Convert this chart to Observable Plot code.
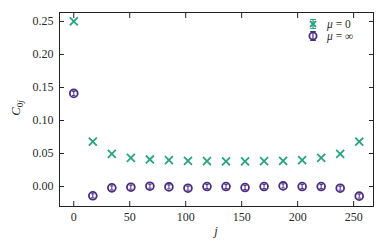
<!DOCTYPE html>
<html><head><meta charset="utf-8">
<script src="https://cdn.jsdelivr.net/npm/d3@7"></script>
<script src="https://cdn.jsdelivr.net/npm/@observablehq/plot@0.6"></script>
<style>body{margin:0;background:#fff} #chart{position:relative;width:386px;height:251px}</style>
</head><body><div id="chart"></div>
<script>
const j = [0, 17, 34, 51, 68, 85, 102, 119, 136, 153, 170, 187, 204, 221, 238, 255];
const cMu0 = [0.250, 0.068, 0.0495, 0.0435, 0.041, 0.040, 0.039, 0.0385, 0.038, 0.038, 0.0385, 0.039, 0.040, 0.0435, 0.0495, 0.068];
const cMuInf = [0.141, -0.014, -0.002, -0.001, 0.0005, -0.0005, -0.0025, 0.0, 0.0, -0.0015, 0.0, 0.001, 0.0, 0.0, -0.0025, -0.0145];
const errMu0 = [0.0005, 0.0005, 0.0005, 0.0005, 0.0005, 0.0005, 0.0005, 0.0005, 0.0005, 0.0005, 0.0005, 0.0005, 0.0005, 0.0005, 0.0005, 0.0005];
const errMuInf = [0.003, 0.003, 0.003, 0.003, 0.003, 0.003, 0.003, 0.003, 0.003, 0.003, 0.003, 0.003, 0.003, 0.003, 0.003, 0.003];
const xTicks = [0, 50, 100, 150, 200, 250];
const yTicks = [0.00, 0.05, 0.10, 0.15, 0.20, 0.25];
const seriesNames = ["μ = 0", "μ = ∞"];

const green = "#27a47f";
const purple = "#4a2b80";
const font = "'Liberation Serif', 'DejaVu Serif', serif";
const textColor = "#2a2a2a";

const rows0 = j.map((x, i) => ({x, y: cMu0[i], e: errMu0[i]}));
const rowsInf = j.map((x, i) => ({x, y: cMuInf[i], e: errMuInf[i]}));

const cap = {draw(ctx) { ctx.moveTo(-1.7, 0); ctx.lineTo(1.7, 0); }};

const chart = Plot.plot({
  width: 386, height: 251,
  marginLeft: 59, marginRight: 13, marginTop: 12, marginBottom: 45,
  style: {fontFamily: font, fontSize: "12px", color: textColor, background: "#fff"},
  x: {domain: [-12.75, 267.75]},
  y: {domain: [-0.0302, 0.2635]},
  marks: [
    Plot.axisX(xTicks, {anchor: "bottom", tickSize: -5, tickPadding: 11, tickFormat: d => String(d), label: null, fontSize: 12, stroke: "#222"}),
    Plot.axisX(xTicks, {anchor: "top", tickSize: -5, tickPadding: 0, tickFormat: () => "", label: null, stroke: "#222"}),
    Plot.axisY(yTicks, {anchor: "left", tickSize: -5, tickPadding: 11, tickFormat: d3.format(".2f"), label: null, fontSize: 12, stroke: "#222"}),
    Plot.axisY(yTicks, {anchor: "right", tickSize: -5, tickPadding: 0, tickFormat: () => "", label: null, stroke: "#222"}),
    Plot.frame({stroke: "#222", strokeWidth: 1}),
    // mu = 0
    Plot.ruleX(rows0, {x: "x", y1: d => d.y - d.e, y2: d => d.y + d.e, stroke: green, strokeWidth: 1}),
    Plot.dot(rows0, {x: "x", y: "y", symbol: "times", r: 3.7, stroke: green, strokeWidth: 1.8}),
    // mu = inf
    Plot.ruleX(rowsInf, {x: "x", y1: d => d.y - d.e, y2: d => d.y + d.e, stroke: purple, strokeWidth: 1}),
    Plot.dot(rowsInf, {x: "x", y: d => d.y + d.e, symbol: cap, stroke: purple, strokeWidth: 1}),
    Plot.dot(rowsInf, {x: "x", y: d => d.y - d.e, symbol: cap, stroke: purple, strokeWidth: 1}),
    Plot.dot(rowsInf, {x: "x", y: "y", r: 3.9, stroke: purple, strokeWidth: 1.8, fill: "none"})
  ]
});

const svg = d3.select(chart);
// y label C_{0j}
const yl = svg.append("text")
  .attr("transform", "translate(20,108) rotate(-90)")
  .attr("text-anchor", "middle")
  .attr("font-family", font).attr("font-size", 12.5).attr("fill", textColor);
yl.append("tspan").attr("font-style", "italic").text("C");
yl.append("tspan").attr("font-size", 9).attr("dy", 2.5).text("0");
yl.append("tspan").attr("font-size", 9).attr("font-style", "italic").text("j");
// x label
svg.append("text").attr("x", 216).attr("y", 235).attr("text-anchor", "middle")
  .attr("font-family", font).attr("font-size", 12.5).attr("font-style", "italic").attr("fill", textColor).text("j");

// legend
const lg = svg.append("g").attr("font-family", font).attr("font-size", 11.5).attr("fill", textColor).attr("text-anchor", "start");
const items = [{name: seriesNames[0], color: green, y: 24, kind: "x"}, {name: seriesNames[1], color: purple, y: 36, kind: "o"}];
items.forEach(it => {
  const g = lg.append("g").attr("transform", `translate(313,${it.y})`);
  g.append("path").attr("d", "M0,-4.5V4.5M-2.8,-4.5H2.8M-2.8,4.5H2.8").attr("stroke", it.color).attr("stroke-width", 1.2).attr("fill", "none");
  if (it.kind === "x") g.append("path").attr("d", "M-3,-3L3,3M-3,3L3,-3").attr("stroke", it.color).attr("stroke-width", 1.8);
  else g.append("circle").attr("r", 3.6).attr("stroke", it.color).attr("stroke-width", 1.8).attr("fill", "none");
  const t = lg.append("text").attr("x", 327).attr("y", it.y).attr("dy", "0.35em").attr("text-anchor", "start");
  const [a, b] = it.name.split(" = ");
  t.append("tspan").attr("font-style", "italic").text(a);
  t.append("tspan").text(" = " + b);
});

document.getElementById("chart").appendChild(chart);
</script>
</body></html>
